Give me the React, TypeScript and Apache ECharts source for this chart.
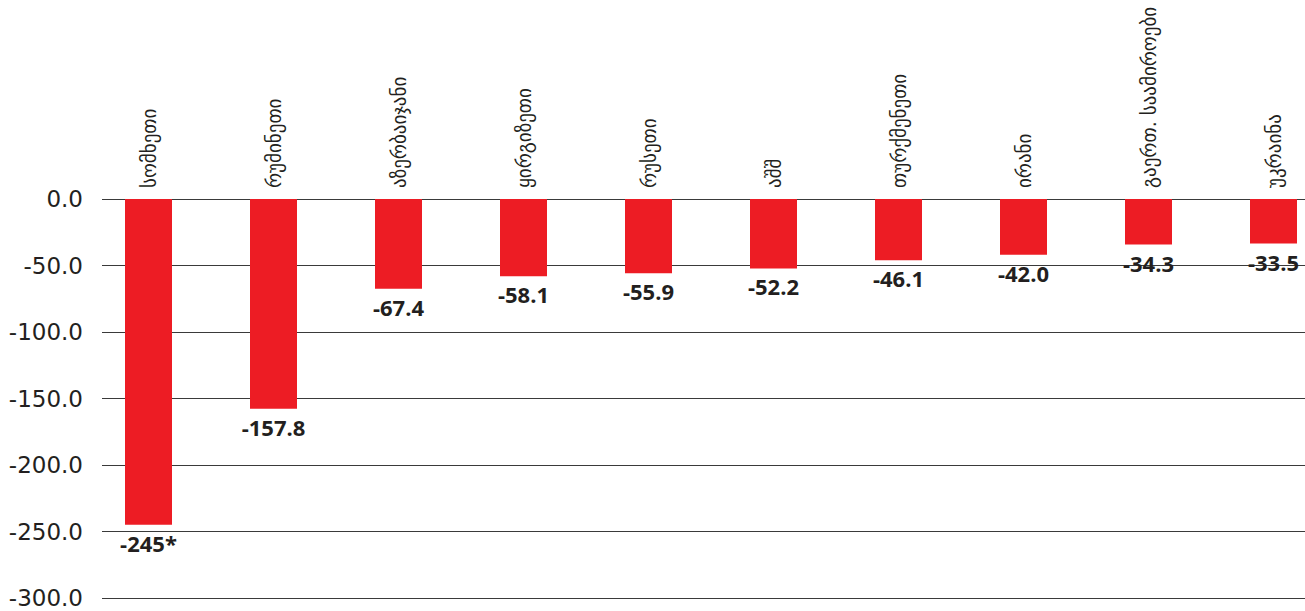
import React, { useEffect, useRef } from "react";
import * as echarts from "echarts";

// Countries (Georgian) and their values
const categories = [
  "სომხეთი",
  "რუმინეთი",
  "აზერბაიჯანი",
  "ყირგიზეთი",
  "რუსეთი",
  "აშშ",
  "თურქმენეთი",
  "ირანი",
  "გაერთ. საამიროები",
  "უკრაინა",
];
const values = [-245, -157.8, -67.4, -58.1, -55.9, -52.2, -46.1, -42.0, -34.3, -33.5];
// footnote markers appended to value labels
const footnotes = ["*", "", "", "", "", "", "", "", "", ""];

const yMin = -300;
const yMax = 0;
const yStep = 50;

const RED = "#ED1C24";
const INK = "#231F20";

export default function App() {
  const ref = useRef<HTMLDivElement>(null);

  useEffect(() => {
    if (!ref.current) return;
    const chart = echarts.init(ref.current, null, { renderer: "svg" });
    const top = 199;
    const bottom = 13;
    chart.setOption({
      animation: false,
      grid: [
        { left: 102, right: 0, top, bottom, outerBoundsMode: "none", containLabel: false },
        // bar slots are 125px wide; the last slot runs past the right edge
        { left: 86, right: -31, top, bottom, outerBoundsMode: "none", containLabel: false },
      ],
      xAxis: [
        { type: "category", gridIndex: 0, show: false, data: categories },
        {
          type: "category",
          gridIndex: 1,
          position: "top",
          data: categories,
          axisLine: { show: false },
          axisTick: { show: false },
          axisLabel: {
            rotate: 90,
            margin: 11,
            interval: 0,
            fontSize: 19,
            color: INK,
            fontFamily: "DejaVu Sans",
          },
        },
      ],
      yAxis: [
        {
          type: "value",
          gridIndex: 0,
          min: yMin,
          max: yMax,
          interval: yStep,
          axisLine: { show: false },
          axisTick: { show: false },
          splitLine: { lineStyle: { color: "#3a3a3a", width: 1 } },
          axisLabel: {
            margin: 19,
            fontSize: 23,
            color: INK,
            fontFamily: "DejaVu Sans",
            formatter: (v: number) => v.toFixed(1),
          },
        },
        {
          type: "value",
          gridIndex: 1,
          min: yMin,
          max: yMax,
          interval: yStep,
          show: false,
        },
      ],
      series: [
        {
          type: "bar",
          xAxisIndex: 1,
          yAxisIndex: 1,
          data: values,
          barWidth: 47,
          itemStyle: { color: RED },
          label: {
            show: true,
            position: "bottom",
            distance: 7,
            fontSize: 22,
            fontWeight: "bold",
            color: INK,
            fontFamily: "Open Sans",
            formatter: (p: any) => {
              const v = p.value as number;
              const note = footnotes[p.dataIndex];
              return note ? `${v}${note}` : v.toFixed(1);
            },
          },
        },
      ],
    });
    return () => chart.dispose();
  }, []);

  return (
    <div
      ref={ref}
      style={{ position: "absolute", left: 0, top: 0, width: 1305, height: 611, background: "#fff" }}
    />
  );
}
